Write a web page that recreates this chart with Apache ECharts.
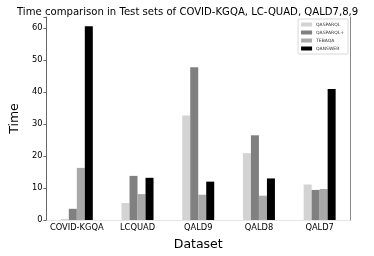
<!DOCTYPE html>
<html><head><meta charset="utf-8">
<script src="https://cdn.jsdelivr.net/npm/echarts@6/dist/echarts.min.js"></script>
<style>html,body{margin:0;padding:0;background:#fff}#c{width:374px;height:256px}</style>
</head><body><div id="c"></div>
<script>
const categories = ['COVID-KGQA', 'LCQUAD', 'QALD9', 'QALD8', 'QALD7'];
const seriesNames = ['QASPARQL', 'QASPARQL+', 'TEBAQA', 'QANSWER'];
const qasparql = [0.3, 5.3, 32.7, 20.9, 11.1];
const qasparqlPlus = [3.5, 13.8, 47.8, 26.5, 9.4];
const tebaqa = [16.3, 8.1, 7.9, 7.6, 9.7];
const qanswer = [60.6, 13.2, 12.0, 13.0, 41.0];
const colors = ['#d3d3d3', '#808080', '#a9a9a9', '#000000'];
const values = [qasparql, qasparqlPlus, tebaqa, qanswer];

const font = 'DejaVu Sans';
const chart = echarts.init(document.getElementById('c'), null, {renderer: 'canvas'});
chart.setOption({
  animation: false,
  textStyle: {fontFamily: font},
  title: {
    text: 'Time comparison in Test sets of COVID-KGQA, LC-QUAD, QALD7,8,9',
    left: 12, top: 2,
    textStyle: {fontFamily: font, fontSize: 10.1, fontWeight: 'normal', color: '#000'}
  },
  legend: {
    data: seriesNames,
    orient: 'vertical',
    right: 26, top: 19,
    itemWidth: 11, itemHeight: 4, itemGap: 3,
    icon: 'rect',
    padding: [3, 4, 3, 3],
    borderColor: '#d8d8d8', borderWidth: 1, borderRadius: 1,
    textStyle: {fontFamily: font, fontSize: 4.5, color: '#333', lineHeight: 4, padding: [0, 0, 0, -1]}
  },
  grid: {left: 31.5, right: 24, top: 17, bottom: 29, containLabel: false},
  xAxis: [{
    type: 'category', data: categories,
    name: 'Dataset', nameLocation: 'middle', nameGap: 18,
    nameTextStyle: {fontFamily: font, fontSize: 12.5, color: '#000'},
    axisLine: {lineStyle: {color: '#666', width: 1}},
    axisTick: {alignWithLabel: true, length: 3, lineStyle: {color: '#666'}},
    axisLabel: {interval: 0, fontFamily: font, fontSize: 8.3, color: '#000', margin: 4}
  }, {
    type: 'category', data: categories, position: 'top',
    axisLine: {lineStyle: {color: '#e6e6e6', width: 1}},
    axisTick: {show: false}, axisLabel: {show: false}
  }],
  yAxis: [{
    type: 'value', min: 0, max: 63.5, interval: 10,
    name: 'Time', nameLocation: 'middle', nameGap: 21,
    nameTextStyle: {fontFamily: font, fontSize: 12.5, color: '#000'},
    axisLine: {show: true, lineStyle: {color: '#666', width: 1}},
    axisTick: {show: true, length: 3, lineStyle: {color: '#666'}},
    axisLabel: {fontFamily: font, fontSize: 8.3, color: '#000', margin: 4,
      formatter: v => (v % 10 === 0 ? String(v) : '')},
    splitLine: {show: false}
  }, {
    type: 'value', min: 0, max: 63.5, position: 'right',
    axisLine: {show: true, lineStyle: {color: '#888', width: 1}},
    axisTick: {show: false}, axisLabel: {show: false}, splitLine: {show: false}
  }],
  series: seriesNames.map((n, i) => ({
    name: n, type: 'bar', data: values[i],
    xAxisIndex: 0, yAxisIndex: 0,
    barWidth: 8, barGap: '0%',
    itemStyle: {color: colors[i]}
  }))
});
</script></body></html>
